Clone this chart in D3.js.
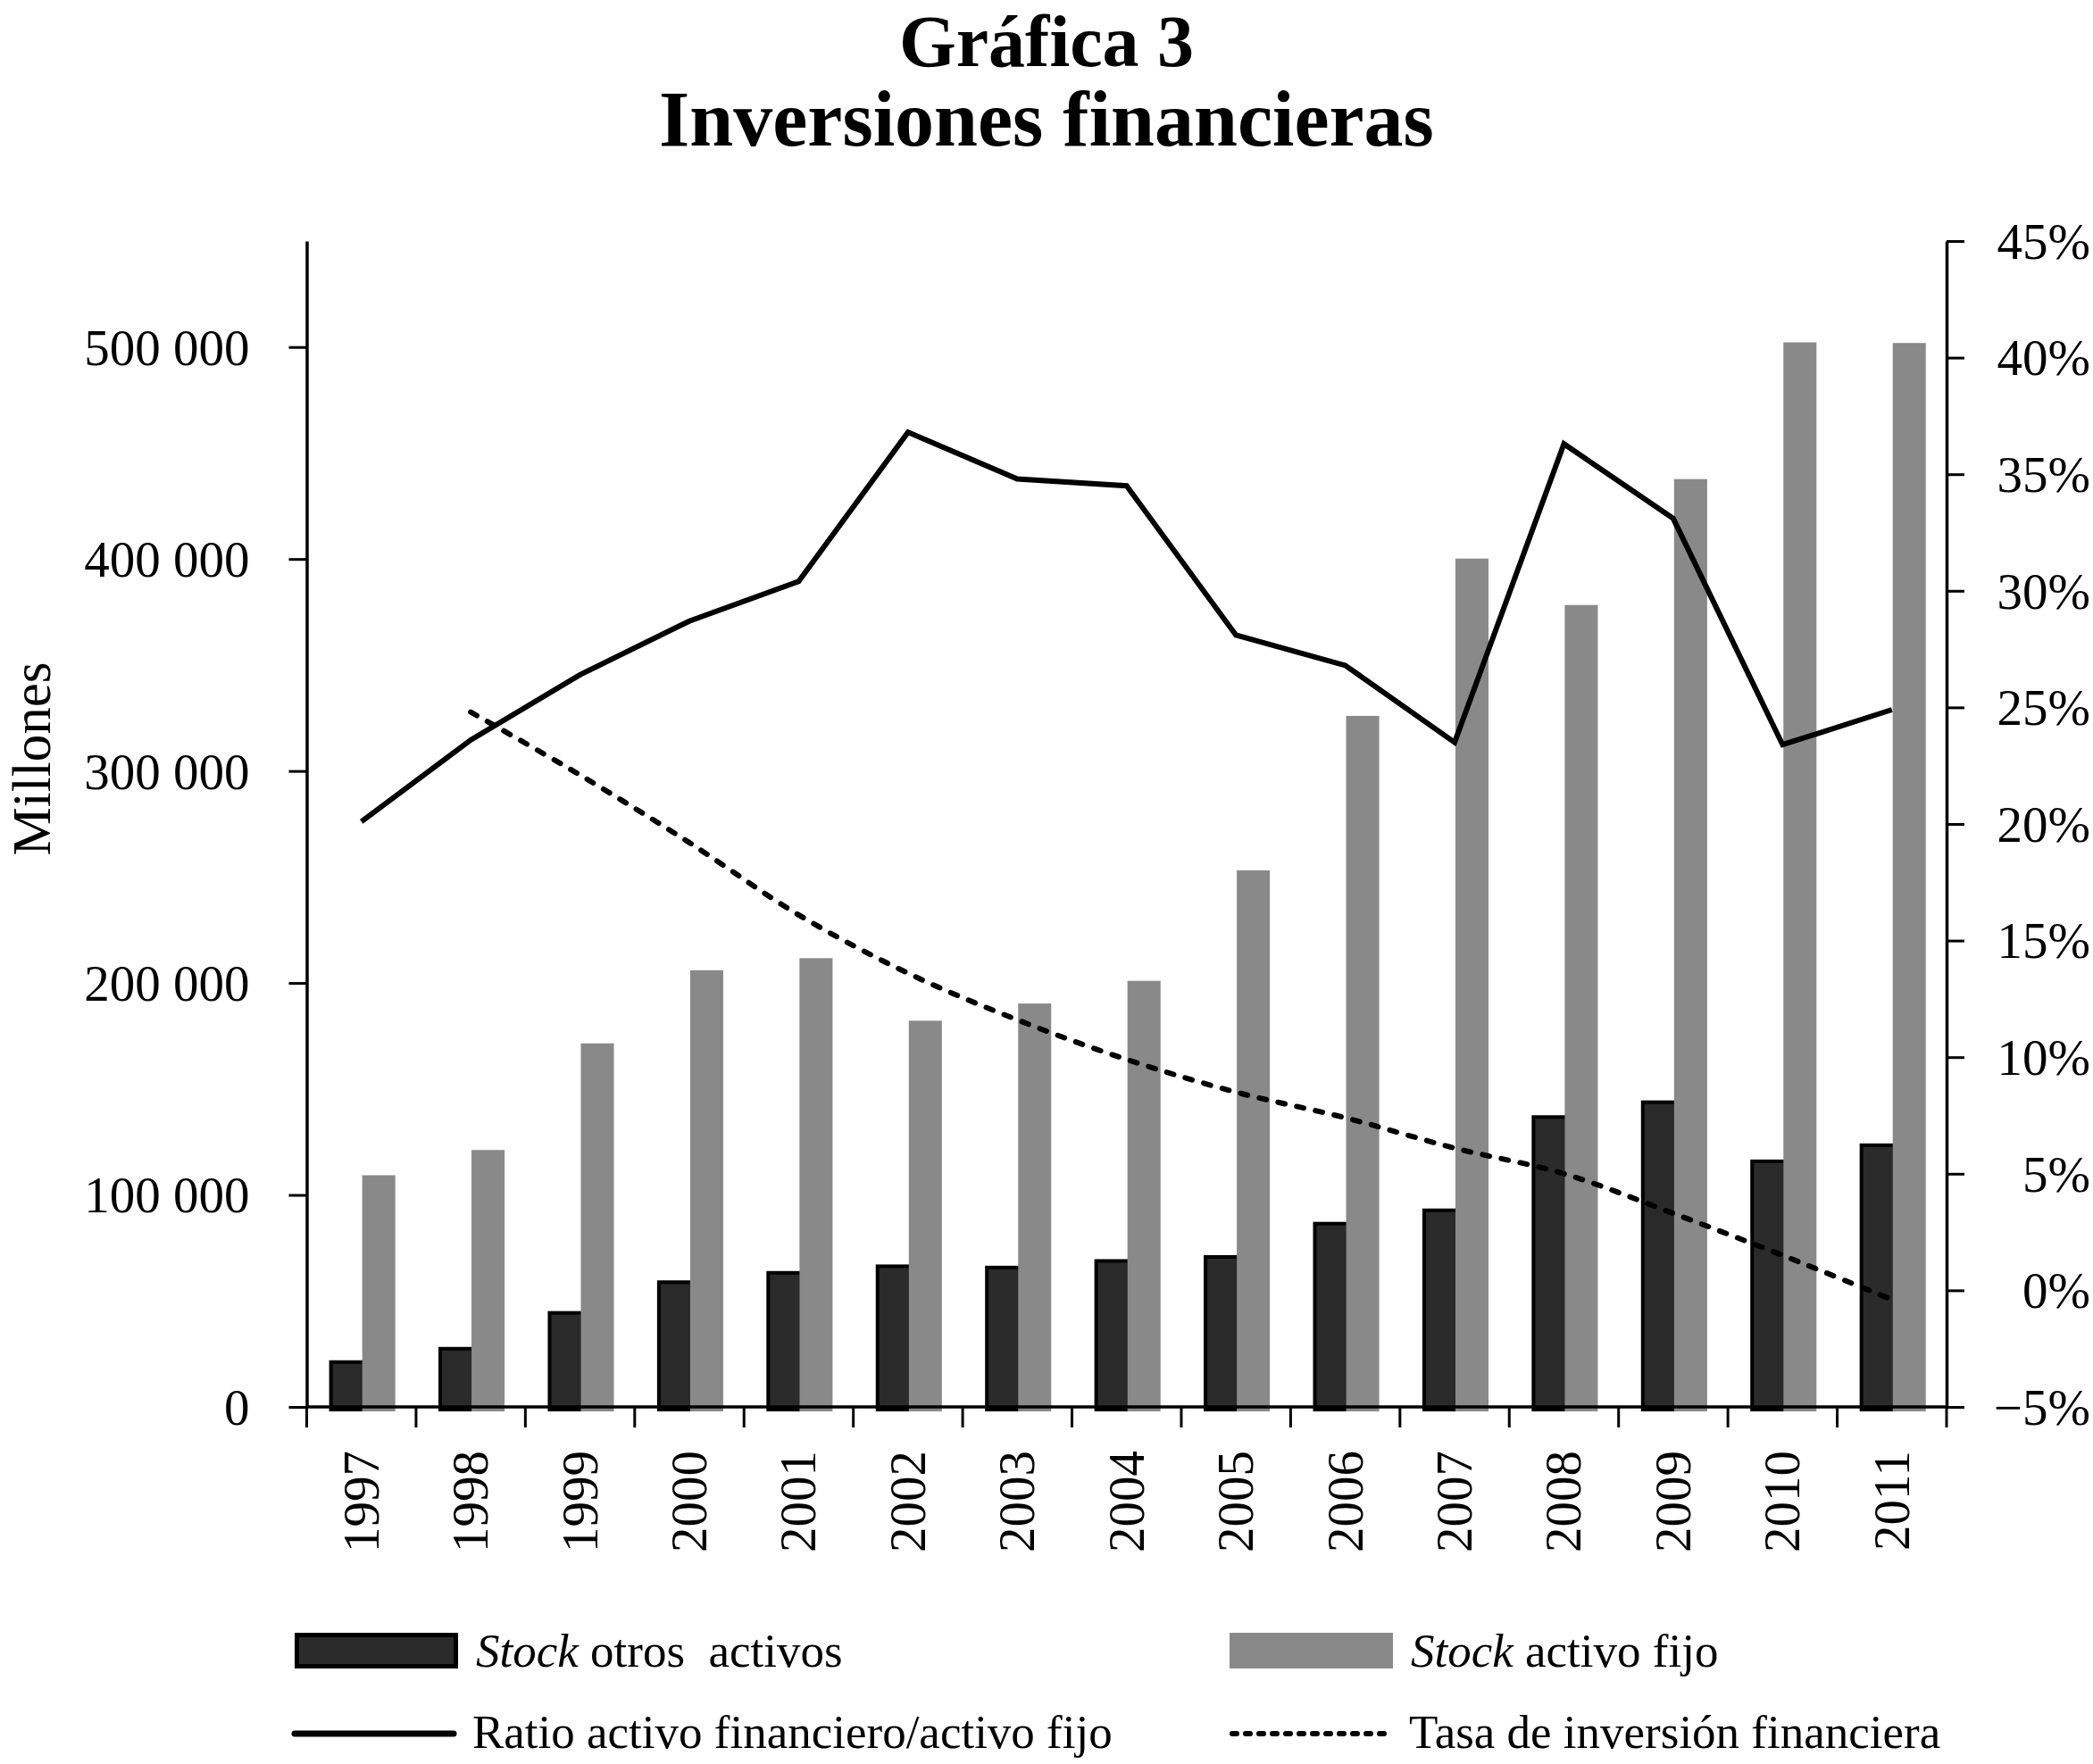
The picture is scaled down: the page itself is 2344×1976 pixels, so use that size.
<!DOCTYPE html>
<html>
<head>
<meta charset="utf-8">
<script src="https://cdnjs.cloudflare.com/ajax/libs/d3/7.8.5/d3.min.js"></script>
<style>
  html, body { margin: 0; padding: 0; background: #fff; }
  svg { display: block; }
  text { font-family: "Liberation Serif", "Times New Roman", serif; fill: #000; }
</style>
</head>
<body>
<script>
// ---- Data ----
const years = ["1997","1998","1999","2000","2001","2002","2003","2004","2005","2006","2007","2008","2009","2010","2011"];
const otrosActivos = [22000, 28300, 45200, 59700, 64100, 67200, 66600, 69700, 71600, 87300, 93600, 137600, 144600, 116700, 124300];
const activoFijo = [109300, 121200, 171500, 206000, 211700, 182200, 190300, 201000, 253100, 326000, 400200, 378300, 437700, 502200, 501900];
const ratioFinanciero = [20.1, 23.6, 26.4, 28.7, 30.4, 36.8, 34.8, 34.5, 28.1, 26.8, 23.5, 36.3, 33.1, 23.4, 24.9];
const tasaInversion = [null, 24.8, 22.1, 19.2, 16.1, 13.6, 11.6, 9.9, 8.5, 7.4, 6.1, 5.0, 3.3, 1.5, -0.4];
const leftTicks = [0, 100000, 200000, 300000, 400000, 500000];
const rightTicks = [-5, 0, 5, 10, 15, 20, 25, 30, 35, 40, 45];
const titleLines = ["Gráfica 3", "Inversiones financieras"];
const yAxisLabel = "Millones";

const W = 2344, H = 1976;
const svg = d3.select("body").append("svg").attr("width", W).attr("height", H);
svg.append("rect").attr("width", W).attr("height", H).attr("fill", "#fff");

const plotL = 343.5, plotR = 2180, plotT = 270, plotB = 1576;

const x = d3.scaleBand().domain(years).range([plotL, plotR]).padding(0);
const bw = x.bandwidth();
const sub = d3.scaleBand().domain(["otros", "fijo"]).range([0.205 * bw, 0.81 * bw]).padding(0);
const yL = d3.scaleLinear().domain([0, 550000]).range([plotB, plotT]);
const yR = d3.scaleLinear().domain([-5, 45]).range([plotB, plotT]);

// Title
const titleSizes = [82, 88];
const titleBase = [74, 163];
svg.append("g").selectAll("text").data(titleLines).join("text")
  .attr("x", W / 2)
  .attr("y", (d, i) => titleBase[i])
  .attr("text-anchor", "middle")
  .attr("font-weight", "bold")
  .attr("font-size", (d, i) => titleSizes[i])
  .text(d => d);

// Bars
const barsG = svg.append("g");
barsG.selectAll("rect.otros").data(years).join("rect")
  .attr("class", "otros")
  .attr("x", (d) => x(d) + sub("otros") + 2)
  .attr("y", (d, i) => yL(otrosActivos[i]) + 2)
  .attr("width", sub.bandwidth())
  .attr("height", (d, i) => yL(0) - yL(otrosActivos[i]) + 1)
  .attr("fill", "#2a2a2a")
  .attr("stroke", "#000")
  .attr("stroke-width", 4);
barsG.selectAll("rect.fijo").data(years).join("rect")
  .attr("class", "fijo")
  .attr("x", (d) => x(d) + sub("fijo"))
  .attr("y", (d, i) => yL(activoFijo[i]))
  .attr("width", sub.bandwidth())
  .attr("height", (d, i) => yL(0) - yL(activoFijo[i]) + 5)
  .attr("fill", "#898989");

// Axes
const fmtThousands = v => d3.format(",")(v).replace(/,/g, " ");
const leftAxis = d3.axisLeft(yL).tickValues(leftTicks).tickSize(20).tickSizeOuter(0).tickPadding(44).tickFormat(fmtThousands);
const gL = svg.append("g").attr("transform", `translate(${plotL},0)`).call(leftAxis);
gL.selectAll("text").attr("font-size", 57).attr("font-family", "Liberation Serif").attr("dy", "0.34em");

const rightAxis = d3.axisRight(yR).tickValues(rightTicks).tickSize(20).tickSizeOuter(0).tickFormat(d => d3.format("")(d) + "%");
const gR = svg.append("g").attr("transform", `translate(${plotR},0)`).call(rightAxis);
gR.selectAll("text").attr("font-size", 57).attr("font-family", "Liberation Serif")
  .attr("text-anchor", "end").attr("x", 2341 - plotR).attr("dy", "0.34em");

[gL, gR].forEach(g => {
  g.selectAll("line").attr("stroke", "#000").attr("stroke-width", 3);
  g.select(".domain").attr("stroke", "#000").attr("stroke-width", 3.5);
});

// X axis: baseline, boundary ticks, rotated labels
const gX = svg.append("g");
gX.append("line").attr("x1", plotL).attr("x2", plotR).attr("y1", plotB).attr("y2", plotB)
  .attr("stroke", "#000").attr("stroke-width", 3.5);
const boundaries = years.map(d => x(d)).concat([x.range()[1]]);
gX.selectAll("line.tick").data(boundaries).join("line")
  .attr("class", "tick")
  .attr("x1", d => d).attr("x2", d => d)
  .attr("y1", plotB).attr("y2", plotB + 23)
  .attr("stroke", "#000").attr("stroke-width", 3);
gX.selectAll("text").data(years).join("text")
  .attr("transform", d => `translate(${x(d) + bw / 2 - 1},1625) rotate(-90)`)
  .attr("text-anchor", "end")
  .attr("dy", "0.35em")
  .attr("font-size", 57)
  .text(d => d);

// Y label
svg.append("text")
  .attr("transform", "translate(56,850) rotate(-90)")
  .attr("text-anchor", "middle")
  .attr("font-size", 61)
  .text(yAxisLabel);

// Lines
const cx = d => x(d) + bw / 2;
const ratioData = years.map((d, i) => ({ year: d, v: ratioFinanciero[i] }));
const tasaData = years.map((d, i) => ({ year: d, v: tasaInversion[i] })).filter(d => d.v !== null);

svg.append("path")
  .datum(ratioData)
  .attr("fill", "none")
  .attr("stroke", "#000")
  .attr("stroke-width", 6)
  .attr("stroke-linejoin", "miter")
  .attr("d", d3.line().x(d => cx(d.year)).y(d => yR(d.v)));

svg.append("path")
  .datum(tasaData)
  .attr("fill", "none")
  .attr("stroke", "#000")
  .attr("stroke-width", 6)
  .attr("stroke-linecap", "round")
  .attr("stroke-dasharray", "8 13.5")
  .attr("d", d3.line().curve(d3.curveCatmullRom.alpha(0.5)).x(d => cx(d.year)).y(d => yR(d.v)));

// Legend
const legend = svg.append("g");
legend.append("rect").attr("x", 332.5).attr("y", 1831.5).attr("width", 178).attr("height", 35)
  .attr("fill", "#2a2a2a").attr("stroke", "#000").attr("stroke-width", 5);
legend.append("rect").attr("x", 1377).attr("y", 1829).attr("width", 183).attr("height", 40)
  .attr("fill", "#898989");
legend.append("line").attr("x1", 330).attr("x2", 508).attr("y1", 1942).attr("y2", 1942)
  .attr("stroke", "#000").attr("stroke-width", 7).attr("stroke-linecap", "round");
legend.append("line").attr("x1", 1380).attr("x2", 1556).attr("y1", 1942).attr("y2", 1942)
  .attr("stroke", "#000").attr("stroke-width", 6).attr("stroke-linecap", "round")
  .attr("stroke-dasharray", "5 10");

function legText(xp, yp, italic, rest) {
  const t = legend.append("text").attr("x", xp).attr("y", yp).attr("font-size", 53)
    .style("white-space", "pre");
  if (italic) t.append("tspan").attr("font-style", "italic").text(italic);
  t.append("tspan").text(rest);
}
legText(533, 1867, "Stock", " otros  activos");
legText(1580, 1867, "Stock", " activo fijo");
legText(529, 1958, null, "Ratio activo financiero/activo fijo");
legText(1578, 1958, null, "Tasa de inversión financiera");
</script>
</body>
</html>
